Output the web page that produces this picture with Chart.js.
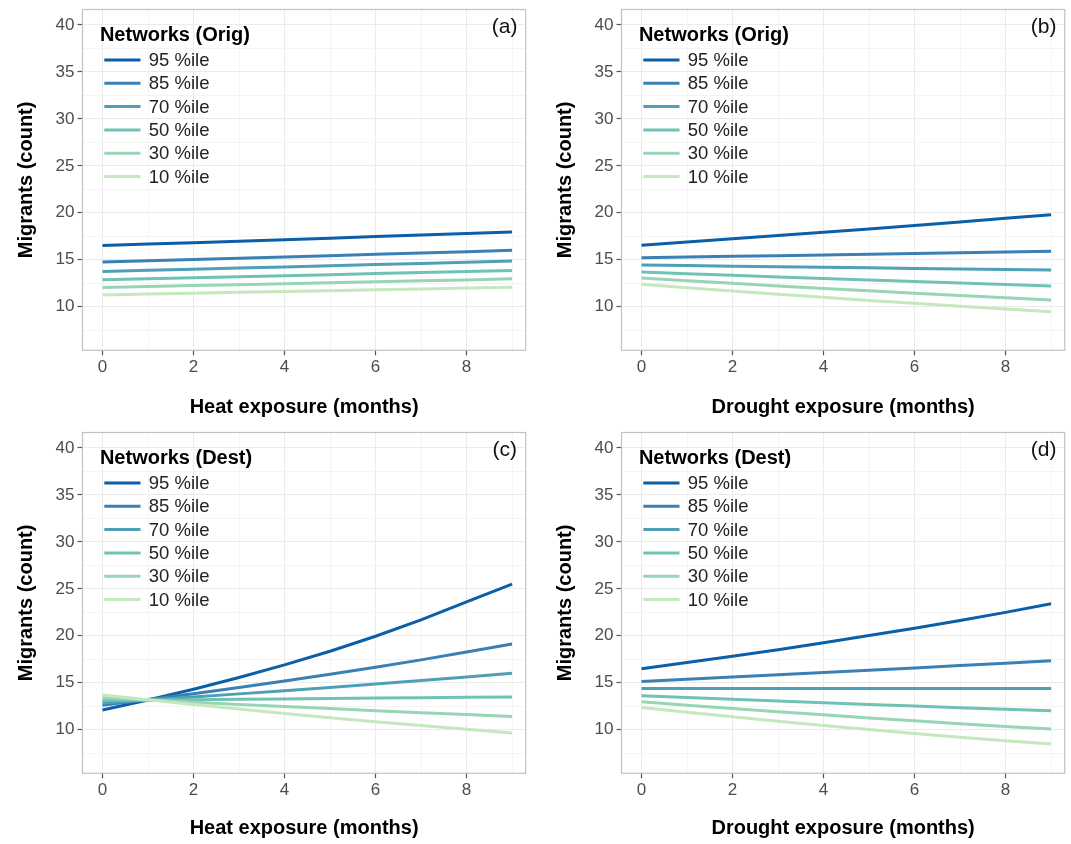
<!DOCTYPE html>
<html>
<head>
<meta charset="utf-8">
<script src="https://cdn.jsdelivr.net/npm/chart.js@4.4.1/dist/chart.umd.min.js"></script>
<style>
html,body{margin:0;padding:0;background:#fff;overflow:hidden;width:1071px;height:844px;}
canvas{position:absolute;}
</style>
</head>
<body>
<canvas id="pa" width="535" height="423" style="left:0px;top:0px;width:535px;height:423px"></canvas>
<canvas id="pb" width="532" height="423" style="left:539px;top:0px;width:532px;height:423px"></canvas>
<canvas id="pc" width="535" height="421" style="left:0px;top:423px;width:535px;height:421px"></canvas>
<canvas id="pd" width="532" height="421" style="left:539px;top:423px;width:532px;height:421px"></canvas>
<script>
// ---------- data ----------
const xMonths = [0, 1, 2, 3, 4, 5, 6, 7, 8, 9];

// (a) Heat exposure, networks at origin
const heatOrig95 = [16.50, 16.66, 16.81, 16.97, 17.13, 17.29, 17.46, 17.62, 17.79, 17.96];
const heatOrig85 = [14.75, 14.88, 15.02, 15.15, 15.29, 15.43, 15.57, 15.71, 15.86, 16.00];
const heatOrig70 = [13.75, 13.87, 13.99, 14.11, 14.23, 14.35, 14.48, 14.60, 14.73, 14.86];
const heatOrig50 = [12.86, 12.97, 13.07, 13.18, 13.29, 13.40, 13.52, 13.63, 13.74, 13.86];
const heatOrig30 = [12.04, 12.14, 12.24, 12.34, 12.44, 12.54, 12.65, 12.75, 12.85, 12.96];
const heatOrig10 = [11.25, 11.34, 11.43, 11.52, 11.61, 11.70, 11.79, 11.88, 11.98, 12.07];

// (b) Drought exposure, networks at origin
const droughtOrig95 = [16.55, 16.88, 17.22, 17.57, 17.92, 18.28, 18.65, 19.02, 19.41, 19.80];
const droughtOrig85 = [15.21, 15.28, 15.36, 15.43, 15.51, 15.58, 15.66, 15.74, 15.81, 15.89];
const droughtOrig70 = [14.43, 14.37, 14.31, 14.25, 14.19, 14.13, 14.07, 14.01, 13.95, 13.89];
const droughtOrig50 = [13.68, 13.51, 13.34, 13.17, 13.00, 12.84, 12.68, 12.52, 12.36, 12.21];
const droughtOrig30 = [13.04, 12.76, 12.48, 12.21, 11.94, 11.68, 11.43, 11.18, 10.94, 10.71];
const droughtOrig10 = [12.39, 12.02, 11.67, 11.32, 10.99, 10.66, 10.35, 10.04, 9.75, 9.46];

// (c) Heat exposure, networks at destination
const heatDest95 = [12.10, 13.15, 14.30, 15.55, 16.90, 18.35, 19.95, 21.70, 23.60, 25.50];
const heatDest85 = [12.60, 13.20, 13.83, 14.48, 15.17, 15.89, 16.64, 17.43, 18.26, 19.13];
const heatDest70 = [12.83, 13.15, 13.47, 13.81, 14.15, 14.50, 14.86, 15.23, 15.61, 16.00];
const heatDest50 = [13.11, 13.15, 13.19, 13.23, 13.27, 13.31, 13.36, 13.40, 13.44, 13.48];
const heatDest30 = [13.39, 13.15, 12.92, 12.69, 12.46, 12.24, 12.02, 11.81, 11.60, 11.39];
const heatDest10 = [13.70, 13.18, 12.67, 12.19, 11.72, 11.27, 10.84, 10.43, 10.03, 9.65];

// (d) Drought exposure, networks at destination
const droughtDest95 = [16.49, 17.14, 17.82, 18.52, 19.26, 20.02, 20.81, 21.63, 22.49, 23.41];
const droughtDest85 = [15.14, 15.37, 15.60, 15.84, 16.08, 16.32, 16.57, 16.82, 17.08, 17.34];
const droughtDest70 = [14.38, 14.38, 14.38, 14.38, 14.38, 14.38, 14.38, 14.38, 14.38, 14.38];
const droughtDest50 = [13.61, 13.42, 13.24, 13.05, 12.87, 12.69, 12.52, 12.34, 12.17, 12.01];
const droughtDest30 = [12.97, 12.61, 12.25, 11.91, 11.58, 11.25, 10.94, 10.63, 10.33, 10.06];
const droughtDest10 = [12.37, 11.86, 11.37, 10.89, 10.44, 10.01, 9.59, 9.19, 8.81, 8.48];

const pctLabels = ['95 %ile', '85 %ile', '70 %ile', '50 %ile', '30 %ile', '10 %ile'];
const legendTitles = ['Networks (Orig)', 'Networks (Orig)', 'Networks (Dest)', 'Networks (Dest)'];
const panelTags = ['(a)', '(b)', '(c)', '(d)'];
const xTitles = ['Heat exposure (months)', 'Drought exposure (months)', 'Heat exposure (months)', 'Drought exposure (months)'];
const yTitle = 'Migrants (count)';

// ---------- style ----------
const lineColors = ['#0b5ea8', '#3a80b4', '#4fa0b6', '#70c2b4', '#97d5b5', '#c6e8bf'];
const FONT = '"Liberation Sans", Arial, Helvetica, sans-serif';
Chart.defaults.font.family = FONT;
Chart.defaults.color = '#4d4d4d';

const panelSeries = [
  [heatOrig95, heatOrig85, heatOrig70, heatOrig50, heatOrig30, heatOrig10],
  [droughtOrig95, droughtOrig85, droughtOrig70, droughtOrig50, droughtOrig30, droughtOrig10],
  [heatDest95, heatDest85, heatDest70, heatDest50, heatDest30, heatDest10],
  [droughtDest95, droughtDest85, droughtDest70, droughtDest50, droughtDest30, droughtDest10]
];

const framePlugin = {
  id: 'frame',
  afterDraw(chart) {
    const a = chart.chartArea, ctx = chart.ctx;
    ctx.save();
    ctx.strokeStyle = '#c2c2c2';
    ctx.lineWidth = 1.2;
    ctx.strokeRect(a.left, a.top, a.right - a.left, a.bottom - a.top);
    ctx.restore();
  }
};

const insideLegend = {
  id: 'insideLegend',
  afterDatasetsDraw(chart, args, opts) {
    const a = chart.chartArea, ctx = chart.ctx;
    ctx.save();
    ctx.textBaseline = 'middle';
    ctx.textAlign = 'left';
    ctx.fillStyle = '#000';
    ctx.font = 'bold 20px ' + FONT;
    ctx.fillText(opts.title, a.left + 17.4, a.top + 26);
    ctx.font = '18.5px ' + FONT;
    chart.data.datasets.forEach((ds, i) => {
      const y = a.top + 50.5 + i * 23.3;
      ctx.strokeStyle = ds.borderColor;
      ctx.lineWidth = 3;
      ctx.lineCap = 'butt';
      ctx.beginPath();
      ctx.moveTo(a.left + 21.8, y);
      ctx.lineTo(a.left + 58, y);
      ctx.stroke();
      ctx.fillStyle = '#222';
      ctx.fillText(ds.label, a.left + 66.3, y + 1);
    });
    ctx.textAlign = 'center';
    ctx.fillStyle = '#111';
    ctx.font = '21px ' + FONT;
    ctx.fillText(opts.tag, a.right - 21, a.top + 18);
    ctx.restore();
  }
};

function makePanel(id, idx, canvasW, canvasH) {
  const series = panelSeries[idx];
  const datasets = series.map((vals, i) => ({
    label: pctLabels[i],
    data: xMonths.map((x, k) => ({ x: x, y: vals[k] })),
    borderColor: lineColors[i],
    borderWidth: 3,
    pointRadius: 0,
    tension: 0,
    fill: false,
    order: series.length - i
  }));
  const areaLeft = 82.5, areaRight = 525.7, areaTop = 9.5, areaBottom = 350.3;
  new Chart(document.getElementById(id), {
    type: 'line',
    data: { datasets: datasets },
    plugins: [framePlugin, insideLegend],
    options: {
      responsive: false,
      animation: false,
      events: [],
      layout: { padding: { left: 0, top: areaTop, right: canvasW - areaRight, bottom: 0 } },
      plugins: {
        legend: { display: false },
        tooltip: { enabled: false },
        insideLegend: { title: legendTitles[idx], tag: panelTags[idx] }
      },
      scales: {
        x: {
          type: 'linear',
          min: -0.44,
          max: 9.3,
          afterFit(s) { s.height = canvasH - areaBottom; s.paddingLeft = 0; s.paddingRight = 0; },
          ticks: {
            stepSize: 1,
            includeBounds: false,
            autoSkip: false,
            maxRotation: 0,
            padding: 2,
            font: { size: 17 },
            color: '#4d4d4d',
            callback: v => (Math.round(v) % 2 === 0 ? String(v) : '')
          },
          grid: {
            color: c => (Math.round(c.tick.value) % 2 === 0 ? '#ebebeb' : '#f4f4f4'),
            lineWidth: 1,
            drawTicks: true,
            tickLength: 5,
            tickWidth: 1.2,
            tickColor: c => (Math.round(c.tick.value) % 2 === 0 ? '#555' : 'rgba(0,0,0,0)')
          },
          border: { display: false },
          title: {
            display: true,
            text: xTitles[idx],
            color: '#000',
            font: { size: 20, weight: 'bold' },
            padding: { top: 0, bottom: 4 }
          }
        },
        y: {
          type: 'linear',
          min: 5.35,
          max: 41.65,
          afterFit(s) { s.width = areaLeft; s.paddingTop = 0; s.paddingBottom = 0; },
          ticks: {
            stepSize: 2.5,
            includeBounds: false,
            autoSkip: false,
            padding: 3,
            font: { size: 17 },
            color: '#4d4d4d',
            callback: v => (v % 5 === 0 ? String(v) : '')
          },
          grid: {
            color: c => (c.tick.value % 5 === 0 ? '#ebebeb' : '#f4f4f4'),
            lineWidth: 1,
            drawTicks: true,
            tickLength: 5,
            tickWidth: 1.2,
            tickColor: c => (c.tick.value % 5 === 0 ? '#555' : 'rgba(0,0,0,0)')
          },
          border: { display: false },
          title: {
            display: true,
            text: yTitle,
            color: '#000',
            font: { size: 20, weight: 'bold' },
            padding: { top: 14, bottom: 0 }
          }
        }
      }
    }
  });
}

makePanel('pa', 0, 535, 423);
makePanel('pb', 1, 532, 423);
makePanel('pc', 2, 535, 421);
makePanel('pd', 3, 532, 421);
</script>
</body>
</html>
